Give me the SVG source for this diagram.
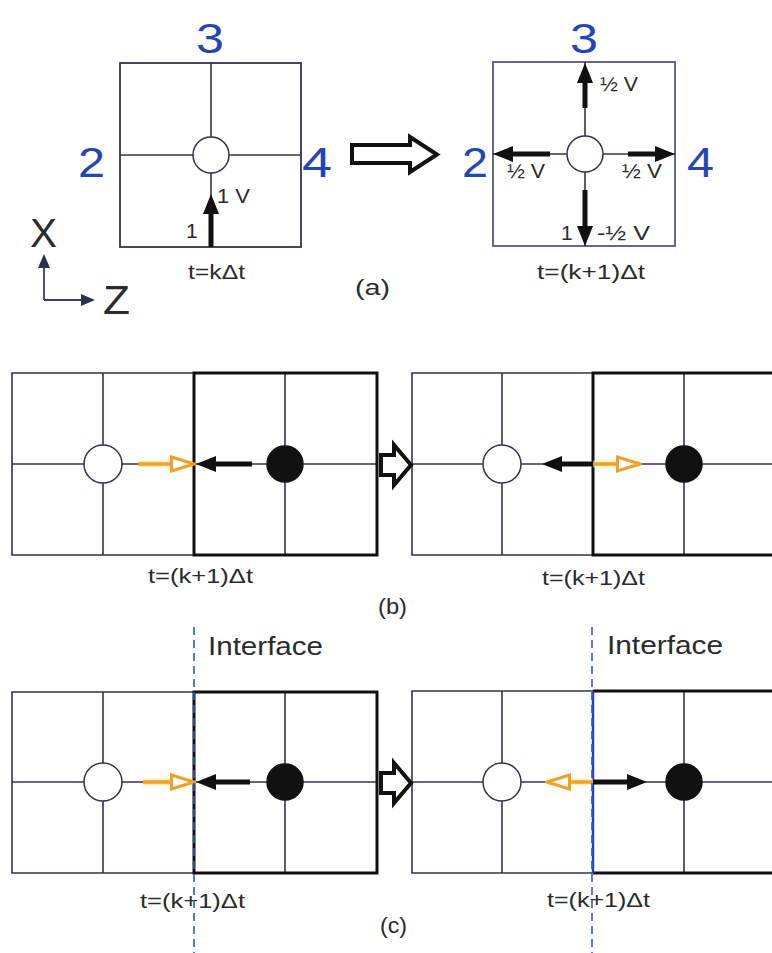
<svg xmlns="http://www.w3.org/2000/svg" width="772" height="953" viewBox="0 0 772 953">
<style>
text{font-family:"Liberation Sans",Arial,sans-serif;fill:#2b2b2b}
.big{font-size:42px;fill:#2346b4}
.sm{font-size:21px}
.grid{stroke:#30334f;stroke-width:1.6;fill:none}
.boxa{stroke:#55578c;stroke-width:1.8;fill:none}
.thick{stroke:#111;stroke-width:3;fill:none}
.blk{stroke:#111;stroke-width:5;fill:none}
.org{stroke:#f0a028;stroke-width:3.5;fill:none}
.glow{stroke:#ffe98a;stroke-width:7;fill:none;opacity:0.6}
.hollow{fill:#fff;stroke:#111;stroke-width:4;stroke-linejoin:miter}
.dash{stroke:#3656c8;stroke-width:1.6;stroke-dasharray:8,5;fill:none}
.open{fill:#fff;stroke:#30334f;stroke-width:1.5}
.fill{fill:#111;stroke:#111;stroke-width:1.5}
</style>
<defs>
<marker id="hb" viewBox="0 0 20 16" refX="0" refY="8" markerWidth="20" markerHeight="16" markerUnits="userSpaceOnUse" orient="auto">
<path d="M0,0 L20,8 L0,16 z" fill="#111"/>
</marker>
<marker id="hs" viewBox="0 0 14 12" refX="0" refY="6" markerWidth="14" markerHeight="12" markerUnits="userSpaceOnUse" orient="auto">
<path d="M0,0 L14,6 L0,12 z" fill="#2e3050"/>
</marker>
<marker id="ho" viewBox="0 0 26 18" refX="1" refY="9" markerWidth="26" markerHeight="18" markerUnits="userSpaceOnUse" orient="auto">
<path d="M1.5,2 L24,9 L1.5,16 z" fill="#fff" stroke="#f0a028" stroke-width="3"/>
</marker>
</defs>

<!-- Panel (a) left -->
<g id="a-left">
<rect class="boxa" x="120" y="63" width="181" height="184" style="stroke:#33344f"/>
<line class="grid" x1="120" y1="155" x2="301" y2="155"/>
<line class="grid" x1="211" y1="63" x2="211" y2="247"/>
<circle class="open" cx="211" cy="155" r="18"/>
<text class="big" x="196" y="53" textLength="28" lengthAdjust="spacingAndGlyphs">3</text>
<text class="big" x="78" y="177" textLength="27" lengthAdjust="spacingAndGlyphs">2</text>
<text class="big" x="302" y="177" textLength="30" lengthAdjust="spacingAndGlyphs">4</text>
<text class="sm" x="217" y="203" textLength="33" lengthAdjust="spacingAndGlyphs">1 V</text>
<text class="sm" x="186" y="238">1</text>
<text class="sm" x="188" y="279" textLength="57" lengthAdjust="spacingAndGlyphs">t=kΔt</text>
</g>

<!-- Panel (a) right -->
<g id="a-right">
<rect class="boxa" x="493" y="62" width="182" height="184"/>
<line class="grid" x1="493" y1="154" x2="675" y2="154"/>
<line class="grid" x1="585" y1="62" x2="585" y2="246"/>
<circle class="open" cx="585" cy="154" r="18"/>
<text class="big" x="570" y="53" textLength="28" lengthAdjust="spacingAndGlyphs">3</text>
<text class="big" x="462" y="177" textLength="26" lengthAdjust="spacingAndGlyphs">2</text>
<text class="big" x="687" y="177" textLength="27" lengthAdjust="spacingAndGlyphs">4</text>
<text class="sm" x="600" y="91" textLength="38" lengthAdjust="spacingAndGlyphs">½ V</text>
<text class="sm" x="507" y="178" textLength="38" lengthAdjust="spacingAndGlyphs">½ V</text>
<text class="sm" x="622" y="178" textLength="40" lengthAdjust="spacingAndGlyphs">½ V</text>
<text class="sm" x="561" y="240">1</text>
<text class="sm" x="597" y="240" textLength="53" lengthAdjust="spacingAndGlyphs">-½ V</text>
<text class="sm" x="537" y="279" textLength="108" lengthAdjust="spacingAndGlyphs">t=(k+1)Δt</text>
</g>

<g id="a-label">
<text x="355" y="295" font-size="22" textLength="35" lengthAdjust="spacingAndGlyphs">(a)</text>
</g>

<g id="axes">
<text x="30" y="247" font-size="40" textLength="27" lengthAdjust="spacingAndGlyphs">X</text>
<text x="103" y="314" font-size="40" textLength="27" lengthAdjust="spacingAndGlyphs">Z</text>
</g>

<!-- Panel (b) left -->
<g id="b-left">
<path class="grid" d="M194,373 H12 V555 H194"/>
<line class="grid" x1="12" y1="464" x2="377" y2="464"/>
<line class="grid" x1="103" y1="373" x2="103" y2="555"/>
<line class="grid" x1="285" y1="373" x2="285" y2="555"/>
<rect class="thick" x="194" y="373" width="183" height="182"/>
<circle class="open" cx="103" cy="464" r="19"/>
<circle class="fill" cx="285" cy="464" r="18"/>
<text class="sm" x="148" y="583" textLength="105" lengthAdjust="spacingAndGlyphs">t=(k+1)Δt</text>
</g>

<!-- Panel (b) right -->
<g id="b-right">
<path class="grid" d="M593,373 H412 V555 H593"/>
<line class="grid" x1="412" y1="464" x2="772" y2="464"/>
<line class="grid" x1="502" y1="373" x2="502" y2="555"/>
<line class="grid" x1="684" y1="373" x2="684" y2="555"/>
<path class="thick" d="M775,373 H593 V555 H775"/>
<circle class="open" cx="502" cy="464" r="19"/>
<circle class="fill" cx="684" cy="464" r="18"/>
<text class="sm" x="542" y="585" textLength="103" lengthAdjust="spacingAndGlyphs">t=(k+1)Δt</text>
</g>

<g id="b-label">
<text x="378" y="614" font-size="22" textLength="29" lengthAdjust="spacingAndGlyphs">(b)</text>
</g>

<!-- Panel (c) left -->
<g id="c-left">
<path class="grid" d="M194,692 H12 V873 H194"/>
<line class="grid" x1="12" y1="782" x2="377" y2="782"/>
<line class="grid" x1="103" y1="692" x2="103" y2="873"/>
<line class="grid" x1="285" y1="692" x2="285" y2="873"/>
<rect class="thick" x="194" y="692" width="183" height="181"/>
<circle class="open" cx="103" cy="782" r="19"/>
<circle class="fill" cx="285" cy="782" r="18"/>
<text class="sm" x="140" y="908" textLength="105" lengthAdjust="spacingAndGlyphs">t=(k+1)Δt</text>
<text x="208" y="655" font-size="25" textLength="115" lengthAdjust="spacingAndGlyphs">Interface</text>
</g>

<!-- Panel (c) right -->
<g id="c-right">
<path class="grid" d="M593,691 H412 V873 H593"/>
<line class="grid" x1="412" y1="782" x2="772" y2="782"/>
<line class="grid" x1="502" y1="691" x2="502" y2="873"/>
<line class="grid" x1="684" y1="691" x2="684" y2="873"/>
<path class="thick" d="M775,691 H593 M593,873 H775"/>
<line x1="593" y1="691" x2="593" y2="873" stroke="#2040d0" stroke-width="2.5"/>
<circle class="open" cx="502" cy="782" r="19"/>
<circle class="fill" cx="684" cy="782" r="18"/>
<text class="sm" x="547" y="907" textLength="103" lengthAdjust="spacingAndGlyphs">t=(k+1)Δt</text>
<text x="607" y="654" font-size="25" textLength="116" lengthAdjust="spacingAndGlyphs">Interface</text>
</g>

<g id="c-label">
<text x="380" y="933" font-size="22" textLength="27" lengthAdjust="spacingAndGlyphs">(c)</text>
</g>

<!-- Connectors / arrows -->
<g id="connectors">
<path d="M44,300 V268" stroke="#3a3c68" stroke-width="1.8" fill="none" marker-end="url(#hs)"/>
<path d="M44,300 H81" stroke="#3a3c68" stroke-width="1.8" fill="none" marker-end="url(#hs)"/>
<line class="blk" x1="211" y1="247" x2="211" y2="214" marker-end="url(#hb)"/>
<line class="blk" x1="585" y1="108" x2="585" y2="83" marker-end="url(#hb)"/>
<line class="blk" x1="550" y1="154" x2="513" y2="154" marker-end="url(#hb)"/>
<line class="blk" x1="628" y1="154" x2="655" y2="154" marker-end="url(#hb)"/>
<line class="blk" x1="585" y1="190" x2="585" y2="226" marker-end="url(#hb)"/>
<path class="hollow" stroke-width="3" d="M352,145 H410 V137 L437,154.5 L410,172 V163 H352 Z"/>
<path class="hollow" d="M381,455 H394 V445 L411,465 L394,485 V475 H381 Z"/>
<path class="hollow" d="M381,773 H394 V763 L411,783 L394,803 V793 H381 Z"/>
<line class="glow" x1="138" y1="464" x2="192" y2="464"/>
<line class="org" x1="138" y1="464" x2="171" y2="464" marker-end="url(#ho)"/>
<line class="blk" x1="252" y1="464" x2="216" y2="464" marker-end="url(#hb)"/>
<line class="blk" x1="593" y1="464" x2="562" y2="464" marker-end="url(#hb)"/>
<line class="glow" x1="593" y1="464" x2="640" y2="464"/>
<line class="org" x1="593" y1="464" x2="617" y2="464" marker-end="url(#ho)"/>
<line class="glow" x1="143" y1="782" x2="192" y2="782"/>
<line class="org" x1="143" y1="782" x2="171" y2="782" marker-end="url(#ho)"/>
<line class="blk" x1="250" y1="782" x2="216" y2="782" marker-end="url(#hb)"/>
<line class="glow" x1="593" y1="782" x2="547" y2="782"/>
<line class="org" x1="593" y1="782" x2="570" y2="782" marker-end="url(#ho)"/>
<line class="blk" x1="593" y1="782" x2="627" y2="782" marker-end="url(#hb)"/>
<line class="dash" x1="194" y1="627" x2="194" y2="953"/>
<line class="dash" x1="592" y1="627" x2="592" y2="953"/>
</g>
</svg>
